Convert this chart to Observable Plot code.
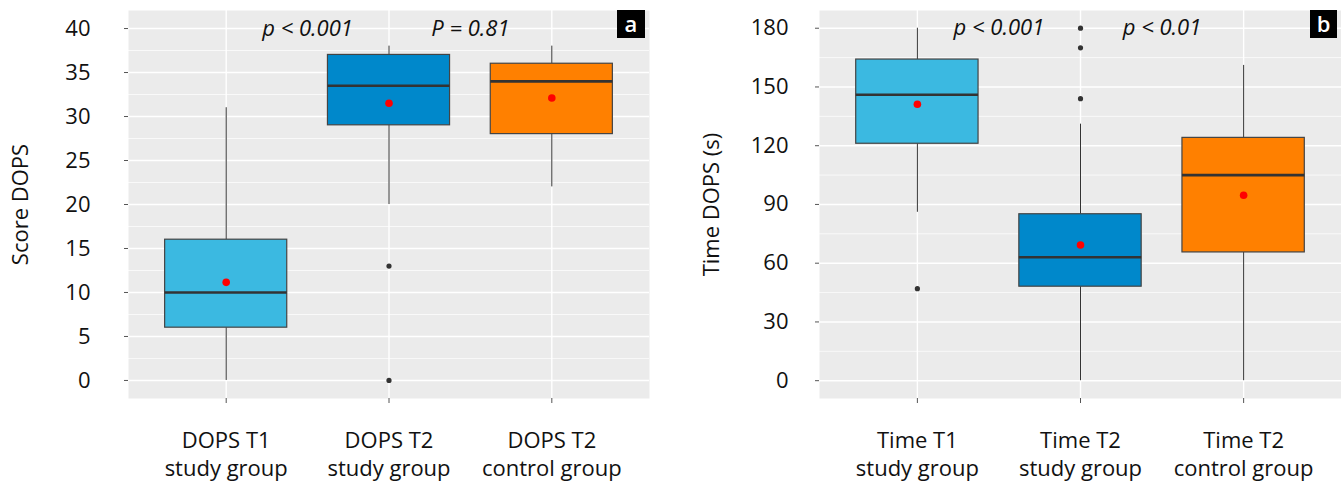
<!DOCTYPE html>
<html><head><meta charset="utf-8">
<script src="https://cdn.jsdelivr.net/npm/d3@7"></script>
<script src="https://cdn.jsdelivr.net/npm/@observablehq/plot@0.6"></script>
<style>
body{margin:0;background:#fff;font-family:"Open Sans",sans-serif;}
#wrap{position:relative;width:1341px;height:483px;overflow:hidden;}
.panel{position:absolute;top:0;overflow:visible;}
.tag{position:absolute;background:#000;color:#fff;font:600 22px "Open Sans",sans-serif;text-align:center;}
</style></head>
<body><div id="wrap"></div>
<script>
// ---- Panel a: DOPS score ----
const catsA = ["DOPS T1\nstudy group", "DOPS T2\nstudy group", "DOPS T2\ncontrol group"];
const q1A = [6, 29, 28];
const medA = [10, 33.5, 34];
const q3A = [16, 37, 36];
const loA = [0, 20, 22];
const hiA = [31, 38, 38];
const meanA = [11.15, 31.5, 32.1];
const outGroupA = [2, 2];
const outValA = [13, 0];
const pTextA = ["p < 0.001", "P = 0.81"];
const pPosA = [1.5, 2.5];
const pYA = 40;
const yTicksA = [0, 5, 10, 15, 20, 25, 30, 35, 40];
const yMinorA = [2.5, 7.5, 12.5, 17.5, 22.5, 27.5, 32.5, 37.5];

// ---- Panel b: DOPS time ----
const catsB = ["Time T1\nstudy group", "Time T2\nstudy group", "Time T2\ncontrol group"];
const q1B = [121, 48, 65.5];
const medB = [146, 63, 105];
const q3B = [164, 85, 124];
const loB = [86, 0, 0];
const hiB = [180, 131, 161];
const meanB = [141.2, 69.3, 94.7];
const outGroupB = [1, 2, 2, 2];
const outValB = [47, 180, 170, 144];
const pTextB = ["p < 0.001", "p < 0.01"];
const pPosB = [1.5, 2.5];
const pYB = 180;
const yTicksB = [0, 30, 60, 90, 120, 150, 180];
const yMinorB = [15, 45, 75, 105, 135, 165];

const boxColors = ["#3BB9E1", "#0088CB", "#FF8000"];

function panel(o) {
  const rows = o.cats.map((c, k) => ({i: k + 1, q1: o.q1[k], med: o.med[k], q3: o.q3[k], lo: o.lo[k], hi: o.hi[k], mean: o.mean[k], color: boxColors[k]}));
  const outs = o.outG.map((g, k) => ({g, v: o.outV[k]}));
  const ann = o.pText.map((t, k) => ({t, x: o.pPos[k], y: o.pY}));
  const hw = 0.375;
  return Plot.plot({
    width: o.width, height: 483,
    marginLeft: o.marginLeft, marginRight: o.marginRight, marginTop: 10, marginBottom: 85,
    style: {fontFamily: '"Open Sans", sans-serif', background: "transparent", color: "#111", overflow: "visible"},
    x: {type: "linear", domain: [0.4, 3.6]},
    y: {domain: o.yDomain},
    color: {type: "identity"},
    marks: [
      Plot.frame({fill: "#EBEBEB", stroke: null}),
      Plot.ruleY(o.yMinor, {stroke: "#fff", strokeWidth: 0.7}),
      Plot.ruleY(o.yTicks, {stroke: "#fff", strokeWidth: 1.4}),
      Plot.ruleX([1, 2, 3], {stroke: "#fff", strokeWidth: 1.4}),
      Plot.ruleX(rows, {x: "i", y1: "lo", y2: "q1", stroke: "#333", strokeWidth: 1}),
      Plot.ruleX(rows, {x: "i", y1: "q3", y2: "hi", stroke: "#333", strokeWidth: 1}),
      Plot.rect(rows, {x1: d => d.i - hw, x2: d => d.i + hw, y1: "q1", y2: "q3", fill: "color", stroke: "#444", strokeWidth: 1.2}),
      Plot.ruleY(rows, {y: "med", x1: d => d.i - hw, x2: d => d.i + hw, stroke: "#333", strokeWidth: 2.6}),
      Plot.dot(outs, {x: "g", y: "v", r: 2.6, fill: "#333", stroke: null}),
      Plot.dot(rows, {x: "i", y: "mean", r: 3.8, fill: "#FF0000", stroke: null}),
      Plot.text(ann, {x: "x", y: "y", text: "t", fontStyle: "italic", fontSize: 22, fill: "#111"}),
      Plot.axisY({ticks: o.yTicks, tickSize: 4, tickPadding: o.tickPadding, fontSize: 22, stroke: "#555",
        label: o.yLabel, labelAnchor: "center", labelOffset: 116, labelArrow: "none"}),
      Plot.axisX({ticks: [1, 2, 3], tickFormat: d => o.cats[d - 1], tickSize: 5, tickPadding: 25, fontSize: 22, lineHeight: 1.27, stroke: "#555", label: null})
    ]
  });
}

const wrap = document.getElementById("wrap");
const a = panel({cats: catsA, q1: q1A, med: medA, q3: q3A, lo: loA, hi: hiA, mean: meanA, outG: outGroupA, outV: outValA,
  pText: pTextA, pPos: pPosA, pY: pYA, yTicks: yTicksA, yMinor: yMinorA, yDomain: [-2.05, 42.05], yLabel: "Score DOPS",
  width: 660, marginLeft: 128, marginRight: 11, tickPadding: 34});
a.classList.add("panel"); a.style.left = "0px";
wrap.appendChild(a);
const b = panel({cats: catsB, q1: q1B, med: medB, q3: q3B, lo: loB, hi: hiB, mean: meanB, outG: outGroupB, outV: outValB,
  pText: pTextB, pPos: pPosB, pY: pYB, yTicks: yTicksB, yMinor: yMinorB, yDomain: [-9.1, 189.05], yLabel: "Time DOPS (s)",
  width: 661, marginLeft: 139, marginRight: 0, tickPadding: 27});
b.classList.add("panel"); b.style.left = "680px";
wrap.appendChild(b);

function tag(t, left, top, w, h) {
  const d = document.createElement("div");
  d.className = "tag"; d.textContent = t;
  d.style.left = left + "px"; d.style.top = top + "px"; d.style.width = w + "px"; d.style.height = h + "px"; d.style.lineHeight = (h - 2) + "px";
  wrap.appendChild(d);
}
tag("a", 617, 10, 28, 28);
tag("b", 1310, 10, 27, 28);
</script>
</body></html>
